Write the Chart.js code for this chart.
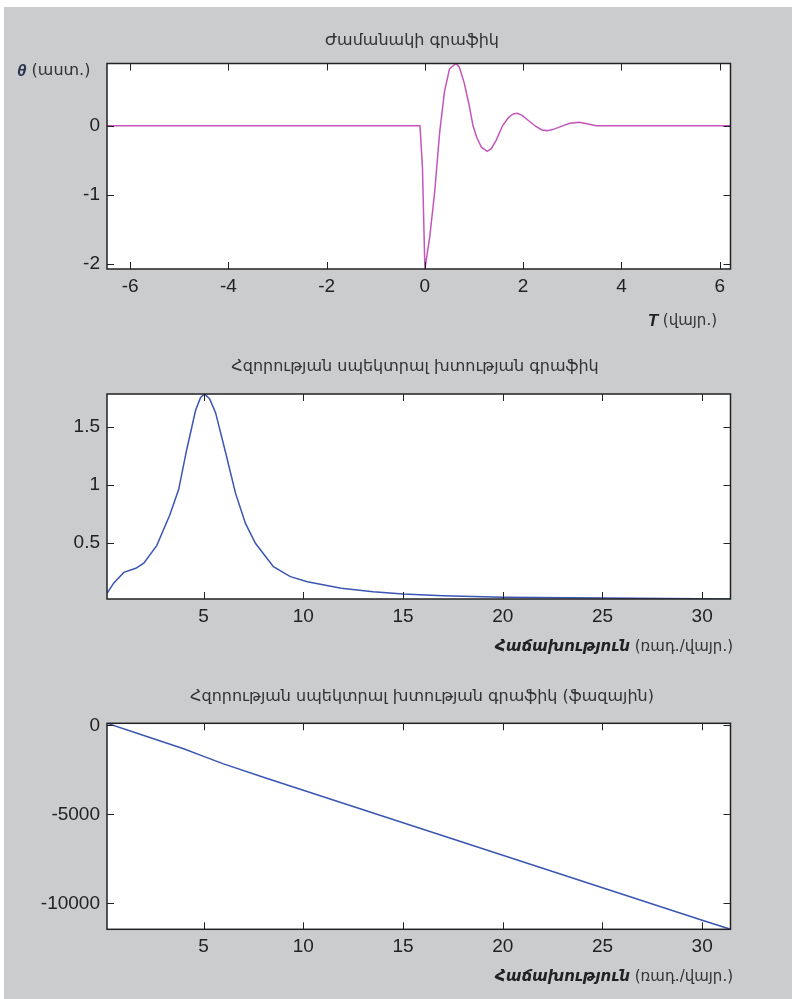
<!DOCTYPE html>
<html>
<head>
<meta charset="utf-8">
<script src="https://cdn.jsdelivr.net/npm/chart.js@4.4.1/dist/chart.umd.min.js"></script>
<style>
  html, body { margin: 0; padding: 0; background: #fff; overflow: hidden; width: 792px; height: 999px; }
  #page { position: absolute; left: 4px; top: 7px; width: 788px; height: 992px; background: #cbccce; }
  canvas { position: absolute; left: 0; }
</style>
</head>
<body>
<div id="page"></div>
<canvas id="c1" width="792" height="333" style="top:0px"></canvas>
<canvas id="c2" width="792" height="329" style="top:333px"></canvas>
<canvas id="c3" width="792" height="337" style="top:662px"></canvas>
<script>
// time plot
const timeT = [-6.47, -0.1, -0.05, 0, 0.1, 0.2, 0.3, 0.4, 0.5, 0.63, 0.7, 0.8, 0.9, 0.98, 1.05, 1.15, 1.27, 1.35, 1.45, 1.58,
  1.7, 1.8, 1.88, 1.98, 2.1, 2.26, 2.38, 2.49, 2.6, 2.79, 2.95, 3.14, 3.3, 3.48, 6.22];
const thetaVals = [0, 0, -0.6, -2.07, -1.6, -0.95, -0.1, 0.5, 0.82, 0.9, 0.85, 0.62, 0.3, 0, -0.16, -0.31, -0.37, -0.33, -0.21, 0,
  0.12, 0.17, 0.18, 0.15, 0.08, -0.01, -0.06, -0.07, -0.055, -0.005, 0.035, 0.05, 0.03, 0, 0];

// power spectral density
const freqW = [0.157, 0.5, 1.0, 1.6, 2.0, 2.65, 3.3, 3.75, 4.15, 4.6, 4.85, 5.05, 5.3, 5.6, 6.1, 6.6, 7.1, 7.6, 8.5, 9.35,
  10.2, 11.9, 13.5, 15.0, 17.0, 20.0, 25.0, 31.42];
const specVals = [0.07, 0.16, 0.25, 0.285, 0.33, 0.48, 0.74, 0.96, 1.3, 1.64, 1.75, 1.78, 1.74, 1.62, 1.28, 0.93, 0.67, 0.5, 0.3, 0.214,
  0.17, 0.114, 0.085, 0.065, 0.05, 0.038, 0.03, 0.022];

// phase
const phaseW = [0.157, 2, 4, 5, 6, 8, 10, 15, 20, 25, 30, 31.42];
const phaseVals = [123, -560, -1310, -1735, -2160, -2910, -3645, -5473, -7300, -9125, -10950, -11460];

const timeTicks = [-6, -4, -2, 0, 2, 4, 6];
const thetaTicks = [-2, -1, 0];
const freqTicks = [5, 10, 15, 20, 25, 30];
const specTicks = [0.5, 1, 1.5];
const phaseTicks = [-10000, -5000, 0];

const TICK_FONT = { family: '"Liberation Sans", Arial, sans-serif', size: 19 };
const ARM = '"DejaVu Sans", sans-serif';
const INK = '#222';

// white axes box, then frame + inward tick marks on all four sides
const framePlugin = {
  id: 'frame',
  beforeDraw(chart) {
    const ctx = chart.ctx, a = chart.chartArea;
    ctx.save();
    ctx.fillStyle = '#fff';
    ctx.fillRect(a.left, a.top, a.right - a.left, a.bottom - a.top);
    ctx.restore();
  },
  afterDatasetsDraw(chart) {
    const ctx = chart.ctx, a = chart.chartArea;
    const xs = chart.scales.x, ys = chart.scales.y;
    const len = 7;
    ctx.save();
    ctx.strokeStyle = INK;
    ctx.lineWidth = 1;
    ctx.beginPath();
    xs.ticks.forEach(t => {
      const px = Math.round(xs.getPixelForValue(t.value)) + 0.5;
      ctx.moveTo(px, a.bottom); ctx.lineTo(px, a.bottom - len);
      ctx.moveTo(px, a.top); ctx.lineTo(px, a.top + len);
    });
    ys.ticks.forEach(t => {
      const py = Math.round(ys.getPixelForValue(t.value)) + 0.5;
      ctx.moveTo(a.left, py); ctx.lineTo(a.left + len, py);
      ctx.moveTo(a.right, py); ctx.lineTo(a.right - len, py);
    });
    ctx.stroke();
    ctx.lineWidth = 1.5;
    ctx.strokeRect(a.left, a.top, a.right - a.left, a.bottom - a.top);
    ctx.restore();
  }
};

function drawRuns(ctx, runs, x, y, align) {
  let total = 0;
  runs.forEach(r => { ctx.font = r.font; total += ctx.measureText(r.text).width; });
  let cx = align === 'right' ? x - total : x;
  ctx.textAlign = 'left';
  runs.forEach(r => {
    ctx.font = r.font;
    ctx.fillStyle = r.color || '#333';
    ctx.fillText(r.text, cx, y);
    cx += ctx.measureText(r.text).width;
  });
}

const textPlugin = {
  id: 'texts',
  afterDraw(chart, args, o) {
    const ctx = chart.ctx, a = chart.chartArea;
    ctx.save();
    ctx.textBaseline = 'middle';
    ctx.fillStyle = '#333';
    ctx.textAlign = 'center';
    ctx.font = '16px ' + ARM;
    ctx.fillText(o.title, o.titleX, a.top + o.titleDy);
    drawRuns(ctx, o.xlabel, o.xlabelRight, a.bottom + o.xlabelDy, 'right');
    if (o.ylabel) drawRuns(ctx, o.ylabel, o.ylabelLeft, a.top + o.ylabelDy, 'left');
    ctx.restore();
  }
};

function makeChart(id, xs, ys, color, xr, yr, xt, yt, box, texts) {
  return new Chart(document.getElementById(id), {
    type: 'line',
    data: {
      datasets: [{
        data: xs.map((v, i) => ({ x: v, y: ys[i] })),
        borderColor: color,
        borderWidth: 1.5,
        pointRadius: 0,
        tension: 0,
        fill: false
      }]
    },
    options: {
      responsive: false,
      animation: false,
      devicePixelRatio: 1,
      layout: { padding: { left: 0, right: 61.5, top: box.top, bottom: 0 } },
      plugins: { legend: { display: false }, tooltip: { enabled: false }, texts: texts },
      scales: {
        x: {
          type: 'linear', min: xr[0], max: xr[1],
          afterBuildTicks: s => { s.ticks = xt.map(v => ({ value: v })); },
          afterFit: s => { s.height = box.xh; },
          grid: { display: false, drawTicks: false },
          border: { display: false },
          ticks: { padding: 6, font: TICK_FONT, color: INK, maxRotation: 0, autoSkip: false, callback: v => String(v) }
        },
        y: {
          type: 'linear', min: yr[0], max: yr[1],
          afterBuildTicks: s => { s.ticks = yt.map(v => ({ value: v })); },
          afterFit: s => { s.width = 107; },
          grid: { display: false, drawTicks: false },
          border: { display: false },
          ticks: { padding: 7, font: TICK_FONT, color: INK, autoSkip: false, callback: v => String(v) }
        }
      }
    },
    plugins: [framePlugin, textPlugin]
  });
}

const freqLabel = [
  { text: 'Հաճախություն', font: 'bold italic 15px ' + ARM, color: '#222' },
  { text: ' (ռադ./վայր.)', font: '15px ' + ARM }
];

makeChart('c1', timeT, thetaVals, '#c455bb', [-6.47, 6.22], [-2.07, 0.9], timeTicks, thetaTicks,
  { top: 63.5, xh: 64 },
  {
    title: 'Ժամանակի գրաֆիկ', titleX: 412, titleDy: -23,
    xlabel: [{ text: 'T', font: 'bold italic 17px "Liberation Sans", sans-serif', color: '#222' },
             { text: ' (վայր.)', font: '15px ' + ARM }],
    xlabelRight: 717, xlabelDy: 52,
    ylabel: [{ text: 'θ', font: 'bold italic 17px "Liberation Sans", sans-serif', color: '#2b3350' },
             { text: ' (աստ.)', font: '16px ' + ARM }],
    ylabelLeft: 17, ylabelDy: 7.5
  });

makeChart('c2', freqW, specVals, '#3b55b3', [0.157, 31.42], [0.022, 1.78], freqTicks, specTicks,
  { top: 61, xh: 63 },
  {
    title: 'Հզորության սպեկտրալ խտության գրաֆիկ', titleX: 415, titleDy: -27,
    xlabel: freqLabel, xlabelRight: 733, xlabelDy: 48
  });

makeChart('c3', phaseW, phaseVals, '#3b55b3', [0.157, 31.42], [-11460, 123], freqTicks, phaseTicks,
  { top: 61.3, xh: 69.7 },
  {
    title: 'Հզորության սպեկտրալ խտության գրաֆիկ (ֆազային)', titleX: 422, titleDy: -26.6,
    xlabel: freqLabel, xlabelRight: 733, xlabelDy: 47.4
  });
</script>
</body>
</html>
